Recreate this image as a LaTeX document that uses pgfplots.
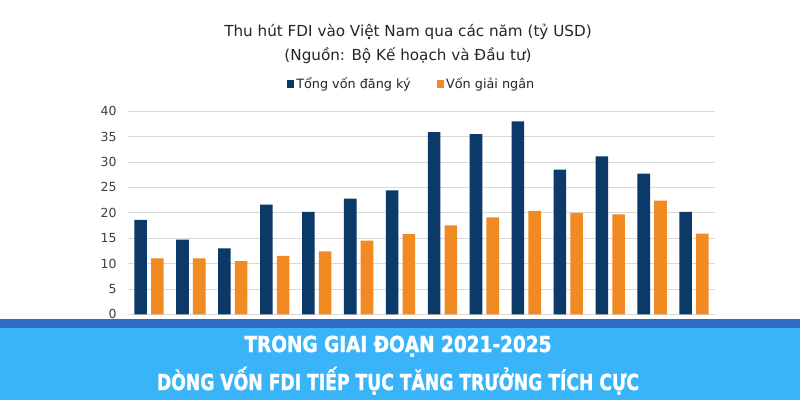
\documentclass[border=0pt]{standalone}
\usepackage{fontspec}
\setmainfont{DejaVu Sans}
\newfontfamily\bannerfont{DejaVu Sans}[BoldFeatures={FakeBold=1.6}]
\usepackage{graphicx}
\usepackage{pgfplots}
\pgfplotsset{compat=1.18}
\definecolor{navy}{HTML}{0B3A68}
\definecolor{orng}{HTML}{F28A24}
\definecolor{bannerlight}{HTML}{3AB4F8}
\definecolor{bannerdark}{HTML}{2A6DC2}
\definecolor{gridgray}{HTML}{D9D9D9}
\definecolor{txtgray}{HTML}{404040}
\definecolor{titlegray}{HTML}{262626}
\begin{document}
\begin{tikzpicture}
\useasboundingbox (0pt,0pt) rectangle (800pt,400pt);
\fill[white] (0pt,0pt) rectangle (800pt,400pt);
\begin{axis}[
  at={(128pt,85.7pt)}, anchor=south west, scale only axis,
  width=587pt, height=203pt,
  xmin=-0.5, xmax=13.5, ymin=0, ymax=40,
  ytick={0,5,...,40}, xtick=\empty,
  ymajorgrids, grid style={gridgray, line width=0.8pt},
  axis line style={draw=none}, major tick style={draw=none},
  /pgf/number format/assume math mode=true,
  yticklabel style={font=\fontsize{12.5}{12.5}\selectfont, text=txtgray, xshift=-8pt},
  ybar, bar width=0.3,
  legend style={at={(0.483,1.134)}, anchor=center, legend columns=2,
    draw=none, fill=none, text=titlegray,
    font=\fontsize{12.8}{14}\selectfont,
    /tikz/every even column/.append style={column sep=24pt}},
]
\addplot[fill=navy, draw=none, bar shift=-0.2,
  legend image code/.code={\fill[navy] (0pt,-3.8pt) rectangle (7.5pt,3.7pt);}]
  coordinates {(0,18.6) (1,14.7) (2,13.0) (3,21.6) (4,20.2) (5,22.8) (6,24.4)
               (7,35.9) (8,35.5) (9,38.0) (10,28.5) (11,31.1) (12,27.7) (13,20.2)};
\addplot[fill=orng, draw=none, bar shift=0.2,
  legend image code/.code={\fill[orng] (0pt,-3.8pt) rectangle (7.5pt,3.7pt);}]
  coordinates {(0,11.0) (1,11.0) (2,10.5) (3,11.5) (4,12.4) (5,14.5) (6,15.8)
               (7,17.5) (8,19.1) (9,20.4) (10,20.0) (11,19.7) (12,22.4) (13,15.9)};
\legend{Tổng vốn đăng ký, Vốn giải ngân}
\end{axis}
\node[anchor=base, text=titlegray, inner sep=0pt, font=\fontsize{15.2}{17}\selectfont] at (408pt,363pt) {Thu hút FDI vào Việt Nam qua các năm (tỷ USD)};
\node[anchor=base, text=titlegray, inner sep=0pt, font=\fontsize{15.2}{17}\selectfont] at (408pt,340pt) {(Nguồn: Bộ Kế hoạch và Đầu tư)};
\fill[bannerlight] (0pt,0pt) rectangle (800pt,72pt);
\fill[bannerdark] (0pt,72pt) rectangle (800pt,81pt);
\node[anchor=base, text=white, inner sep=0pt] at (398pt,48pt) {\resizebox{307pt}{\height}{\bannerfont\fontsize{22}{22}\selectfont\bfseries TRONG GIAI ĐOẠN 2021-2025}};
\node[anchor=base, text=white, inner sep=0pt] at (398pt,10pt) {\resizebox{482pt}{\height}{\bannerfont\fontsize{22}{22}\selectfont\bfseries DÒNG VỐN FDI TIẾP TỤC TĂNG TRƯỞNG TÍCH CỰC}};
\end{tikzpicture}
\end{document}
